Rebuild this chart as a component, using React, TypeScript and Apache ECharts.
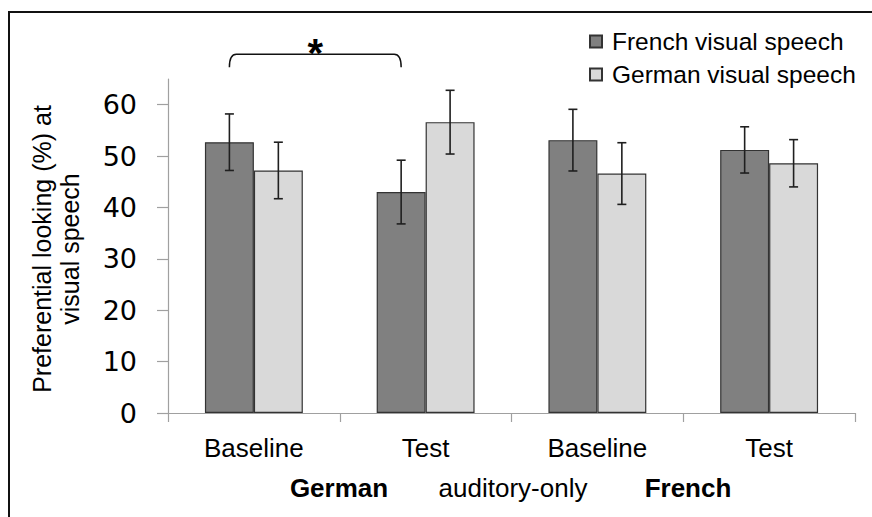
import React, { useEffect, useRef } from 'react';
import * as echarts from 'echarts';

const categories = ['Baseline', 'Test', 'Baseline', 'Test'];
const seriesNames = ['French visual speech', 'German visual speech'];
const frenchValues = [52.7, 43.0, 53.1, 51.2];
const frenchErrors = [5.5, 6.2, 6.0, 4.5];
const germanValues = [47.2, 56.6, 46.6, 48.6];
const germanErrors = [5.5, 6.2, 6.0, 4.6];
const yTicks = [0, 10, 20, 30, 40, 50, 60];
const yAxisTitle = ['Preferential looking (%) at', 'visual speech'];
const groupLabels = ['German', 'auditory-only', 'French'];
const groupLabelBold = [true, false, true];
// bracket: from category, to category, top value, leg-end value, label
const bracketFrom = 0;
const bracketTo = 1;
const bracketTop = 69.8;
const bracketEnd = 67.3;
const bracketLabel = '*';

const FONT = "'Liberation Sans', Arial, sans-serif";
const CAT_GAP = 0.43;
const DARK = '#808080';
const LIGHT = '#d9d9d9';

function errorRender(side: number) {
  return (params: any, api: any) => {
    const cat = api.value(0);
    const lo = api.value(1);
    const hi = api.value(2);
    const band = api.size([1, 0])[0];
    const barW = (band * (1 - CAT_GAP)) / 2;
    const off = side * 0.5 * barW;
    const pLo = api.coord([cat, lo]);
    const pHi = api.coord([cat, hi]);
    const x = pLo[0] + off;
    const half = 4.5;
    const style = { stroke: '#1f1f1f', lineWidth: 1.6 };
    return {
      type: 'group',
      children: [
        { type: 'line', shape: { x1: x, y1: pLo[1], x2: x, y2: pHi[1] }, style },
        { type: 'line', shape: { x1: x - half, y1: pHi[1], x2: x + half, y2: pHi[1] }, style },
        { type: 'line', shape: { x1: x - half, y1: pLo[1], x2: x + half, y2: pLo[1] }, style },
      ],
    };
  };
}

function bracketRender(params: any, api: any) {
  const band = api.size([1, 0])[0];
  const barW = (band * (1 - CAT_GAP)) / 2;
  const a = api.coord([api.value(0), api.value(2)]);
  const b = api.coord([api.value(1), api.value(2)]);
  const e = api.coord([api.value(0), api.value(3)]);
  const x1 = a[0] - barW / 2;
  const x2 = b[0] - barW / 2;
  const yt = a[1];
  const ye = e[1];
  const r = 7;
  const d = `M${x1},${ye} Q${x1},${yt} ${x1 + r},${yt} L${x2 - r},${yt} Q${x2},${yt} ${x2},${ye}`;
  return {
    type: 'group',
    children: [
      { type: 'path', shape: { pathData: d }, style: { fill: 'none', stroke: '#111', lineWidth: 1.5 } },
      {
        type: 'text',
        x: (x1 + x2) / 2,
        y: yt + 19,
        style: {
          text: bracketLabel,
          fontSize: 40,
          fontWeight: 'bold',
          fontFamily: FONT,
          fill: '#000',
          align: 'center',
          verticalAlign: 'bottom',
        },
      },
    ],
  };
}

export default function App() {
  const ref = useRef<HTMLDivElement>(null);
  useEffect(() => {
    if (!ref.current) return;
    const chart = echarts.init(ref.current, undefined, { renderer: 'svg' });
    const frenchErr = frenchValues.map((v, i) => [i, v - frenchErrors[i], v + frenchErrors[i]]);
    const germanErr = germanValues.map((v, i) => [i, v - germanErrors[i], v + germanErrors[i]]);
    const groupX = [339, 513, 688];
    chart.setOption({
      animation: false,
      backgroundColor: '#fff',
      grid: { left: 168, right: 17, top: 79, bottom: 104, containLabel: false },
      legend: {
        data: seriesNames,
        orient: 'vertical',
        left: 584,
        top: 24,
        itemWidth: 12,
        itemHeight: 12,
        itemGap: 8,
        icon: 'rect',
        textStyle: { fontFamily: FONT, fontSize: 24.5, color: '#000', padding: [0, 0, 0, 5] },
      },
      xAxis: {
        type: 'category',
        data: categories,
        axisLine: { show: true, lineStyle: { color: '#a0a0a0', width: 1.2 } },
        axisTick: { show: true, interval: 0, length: 9, lineStyle: { color: '#a0a0a0', width: 1.2 } },
        axisLabel: { fontFamily: FONT, fontSize: 26, color: '#000', margin: 22, interval: 0 },
        splitLine: { show: false },
      },
      yAxis: {
        type: 'value',
        min: 0,
        max: 65,
        interval: 10,
        axisLine: { show: true, lineStyle: { color: '#a0a0a0', width: 1.2 } },
        axisTick: { show: true, length: 11, customValues: yTicks, lineStyle: { color: '#a0a0a0', width: 1.2 } },
        axisLabel: { fontFamily: "'DejaVu Sans', sans-serif", fontSize: 27, color: '#000', margin: 31, customValues: yTicks },
        splitLine: { show: false },
      },
      series: [
        {
          name: seriesNames[0],
          type: 'bar',
          data: frenchValues,
          barGap: '0%',
          barCategoryGap: '43%',
          itemStyle: { color: DARK, borderColor: '#333', borderWidth: 1.2 },
        },
        {
          name: seriesNames[1],
          type: 'bar',
          data: germanValues,
          barGap: '0%',
          barCategoryGap: '43%',
          itemStyle: { color: LIGHT, borderColor: '#333', borderWidth: 1.2 },
        },
        { type: 'custom', renderItem: errorRender(-1), data: frenchErr, encode: { x: 0, y: [1, 2] }, z: 5 },
        { type: 'custom', renderItem: errorRender(1), data: germanErr, encode: { x: 0, y: [1, 2] }, z: 5 },
        {
          type: 'custom',
          renderItem: bracketRender,
          data: [[bracketFrom, bracketTo, bracketTop, bracketEnd]],
          encode: { x: [0, 1], y: [2, 3] },
          clip: false,
          z: 5,
        },
      ],
      graphic: [
        {
          type: 'polyline',
          shape: { points: [[9, 517], [9, 12], [872, 12]] },
          style: { stroke: '#111', lineWidth: 2, fill: 'none' },
        },
        {
          type: 'text',
          x: 56,
          y: 249,
          rotation: Math.PI / 2,
          style: {
            text: yAxisTitle.join('\n'),
            fontFamily: FONT,
            fontSize: 25,
            lineHeight: 28,
            fill: '#000',
            align: 'center',
            verticalAlign: 'middle',
          },
        },
        ...groupLabels.map((t, i) => ({
          type: 'text',
          x: groupX[i],
          y: 488,
          style: {
            text: t,
            fontFamily: FONT,
            fontSize: 26,
            fontWeight: groupLabelBold[i] ? 'bold' : 'normal',
            fill: '#000',
            align: 'center',
            verticalAlign: 'middle',
          },
        })),
      ],
    });
    return () => chart.dispose();
  }, []);
  return <div ref={ref} style={{ position: 'absolute', left: 0, top: 0, width: 872, height: 517 }} />;
}
